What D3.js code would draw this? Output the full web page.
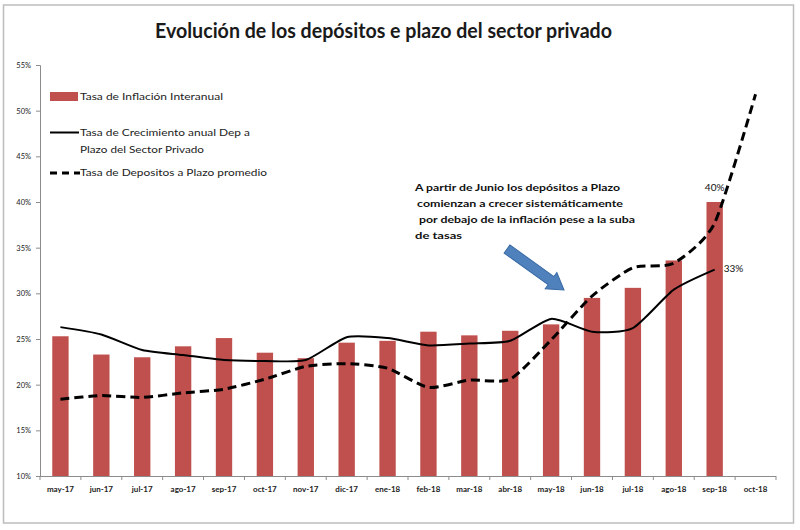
<!DOCTYPE html>
<html>
<head>
<meta charset="utf-8">
<script src="https://cdn.jsdelivr.net/npm/d3@7"></script>
<style>
  html, body { margin: 0; padding: 0; background: #fff; }
  svg { display: block; font-family: Lato, "Open Sans", sans-serif; }
</style>
</head>
<body>
<svg id="chart" width="800" height="530"></svg>
<script>
const categories = ["may-17","jun-17","jul-17","ago-17","sep-17","oct-17","nov-17","dic-17","ene-18","feb-18","mar-18","abr-18","may-18","jun-18","jul-18","ago-18","sep-18","oct-18"];
const inflacion = [25.3, 23.3, 23.0, 24.2, 25.1, 23.5, 22.9, 24.6, 24.8, 25.8, 25.4, 25.9, 26.6, 29.5, 30.6, 33.6, 40.0, null];
const crecimientoDep = [26.3, 25.5, 23.8, 23.25, 22.7, 22.6, 22.7, 25.2, 25.1, 24.3, 24.5, 24.8, 27.2, 25.8, 26.2, 30.4, 32.6, null];
const tasaDep = [18.4, 18.8, 18.6, 19.1, 19.5, 20.6, 22.0, 22.3, 21.8, 19.7, 20.5, 20.6, 24.9, 29.7, 32.8, 33.3, 37.7, 51.8];
const yTicks = [10, 15, 20, 25, 30, 35, 40, 45, 50, 55];
const titleText = "Evolución de los depósitos e plazo del sector privado";
const legendLabels = [["Tasa de Inflación Interanual"], ["Tasa de Crecimiento anual Dep a", "Plazo del Sector Privado"], ["Tasa de Depositos a Plazo promedio"]];
const annotationLines = ["A partir de Junio los depósitos a Plazo", " comienzan a crecer sistemáticamente", " por debajo de la inflación pese a la suba", "de tasas"];
const dataLabels = [{series: "inflacion", index: 16, text: "40%"}, {series: "crecimiento", index: 16, text: "33%"}];

const svg = d3.select("#chart");

// frame
svg.append("rect").attr("x", 3.5).attr("y", 5).attr("width", 790).attr("height", 518)
  .attr("fill", "#fff").attr("stroke", "#bdbdbd").attr("stroke-width", 1.5);

// title
svg.append("text").attr("x", 155).attr("y", 38)
  .attr("font-size", 20).attr("font-weight", "bold").attr("fill", "#1a1a1a")
  .attr("textLength", 457).attr("lengthAdjust", "spacingAndGlyphs")
  .text(titleText);

const x = d3.scaleBand().domain(categories).range([40, 776]).paddingInner(0.6).paddingOuter(0.3);
const y = d3.scaleLinear().domain([10, 55]).range([476, 65]);
const xc = d => x(d) + x.bandwidth() / 2;

// bars
svg.append("g").selectAll("rect")
  .data(categories.map((c, i) => ({c, v: inflacion[i]})).filter(d => d.v != null))
  .join("rect")
  .attr("x", d => x(d.c)).attr("width", x.bandwidth())
  .attr("y", d => y(d.v)).attr("height", d => y(10) - y(d.v))
  .attr("fill", "#c0504d");

// y axis
const yAxis = svg.append("g").attr("transform", "translate(40,0)")
  .call(d3.axisLeft(y).tickValues(yTicks).tickSize(4).tickPadding(5).tickFormat(d => d + "%"));
yAxis.selectAll("path, line").attr("stroke", "#8c8c8c");
yAxis.selectAll("text").attr("font-size", 7.5).attr("font-family", "Lato, sans-serif").attr("fill", "#222");

// x axis
const xAxis = svg.append("g").attr("transform", "translate(0,476)")
  .call(d3.axisBottom(x).tickSize(0).tickPadding(10));
xAxis.select("path").attr("stroke", "#8c8c8c").attr("d", "M40,0.5H776");
xAxis.selectAll("text").attr("font-size", 8).attr("font-weight", "bold").attr("font-family", "Lato, sans-serif").attr("fill", "#222");
// boundary tick marks
const step = x.step();
svg.append("g").selectAll("line")
  .data(d3.range(categories.length + 1))
  .join("line")
  .attr("x1", i => 40 + i * (736 / categories.length)).attr("x2", i => 40 + i * (736 / categories.length))
  .attr("y1", 476).attr("y2", 480)
  .attr("stroke", "#8c8c8c");

// lines
const lineGen = d3.line()
  .defined(d => d.v != null)
  .x(d => xc(d.c)).y(d => y(d.v))
  .curve(d3.curveCardinal.tension(0.35));

svg.append("path")
  .datum(categories.map((c, i) => ({c, v: crecimientoDep[i]})))
  .attr("d", lineGen).attr("fill", "none").attr("stroke", "#000").attr("stroke-width", 2);

svg.append("path")
  .datum(categories.map((c, i) => ({c, v: tasaDep[i]})))
  .attr("d", lineGen).attr("fill", "none").attr("stroke", "#000").attr("stroke-width", 3)
  .attr("stroke-dasharray", "9,5");

// data labels
svg.append("text").attr("x", xc(categories[16])).attr("y", y(inflacion[16]) - 11)
  .attr("text-anchor", "middle").attr("font-size", 10).attr("fill", "#111").text(dataLabels[0].text);
svg.append("text").attr("x", xc(categories[16]) + 9).attr("y", y(crecimientoDep[16]) + 2)
  .attr("font-size", 10).attr("fill", "#111").text(dataLabels[1].text);

// legend
const leg = svg.append("g");
leg.append("rect").attr("x", 50).attr("y", 92).attr("width", 28).attr("height", 9).attr("fill", "#c0504d");
leg.append("line").attr("x1", 50).attr("x2", 79).attr("y1", 132.5).attr("y2", 132.5).attr("stroke", "#000").attr("stroke-width", 2);
leg.append("line").attr("x1", 50).attr("x2", 80).attr("y1", 173).attr("y2", 173).attr("stroke", "#000").attr("stroke-width", 3).attr("stroke-dasharray", "7,5");
const legendPos = [[100], [136, 153], [176]];
const legendLen = [[143], [170, 124], [187]];
legendLabels.forEach((lines, i) => {
  lines.forEach((t, j) => {
    leg.append("text").attr("x", 80).attr("y", legendPos[i][j])
      .attr("font-size", 10).attr("fill", "#222")
      .attr("textLength", legendLen[i][j]).attr("lengthAdjust", "spacingAndGlyphs")
      .text(t);
  });
});

// annotation
const annX = [415, 417, 419, 415];
const annLen = [205, 206, 216, 47];
annotationLines.forEach((t, i) => {
  svg.append("text").attr("x", annX[i]).attr("y", 191 + i * 16)
    .attr("font-size", 10).attr("font-weight", "bold").attr("fill", "#111")
    .attr("textLength", annLen[i]).attr("lengthAdjust", "spacingAndGlyphs")
    .text(t.trim());
});

// arrow
const ax0 = 507, ay0 = 249, ax1 = 564, ay1 = 290;
const ang = Math.atan2(ay1 - ay0, ax1 - ax0);
const L = Math.hypot(ax1 - ax0, ay1 - ay0);
const sw = 5, hw = 10, hl = 16;
const pts = [[0, -sw], [L - hl, -sw], [L - hl, -hw], [L, 0], [L - hl, hw], [L - hl, sw], [0, sw]];
svg.append("polygon")
  .attr("points", pts.map(p => p.join(",")).join(" "))
  .attr("transform", `translate(${ax0},${ay0}) rotate(${ang * 180 / Math.PI})`)
  .attr("fill", "#4f81bd").attr("stroke", "#3a6aa5").attr("stroke-width", 1);
</script>
</body>
</html>
